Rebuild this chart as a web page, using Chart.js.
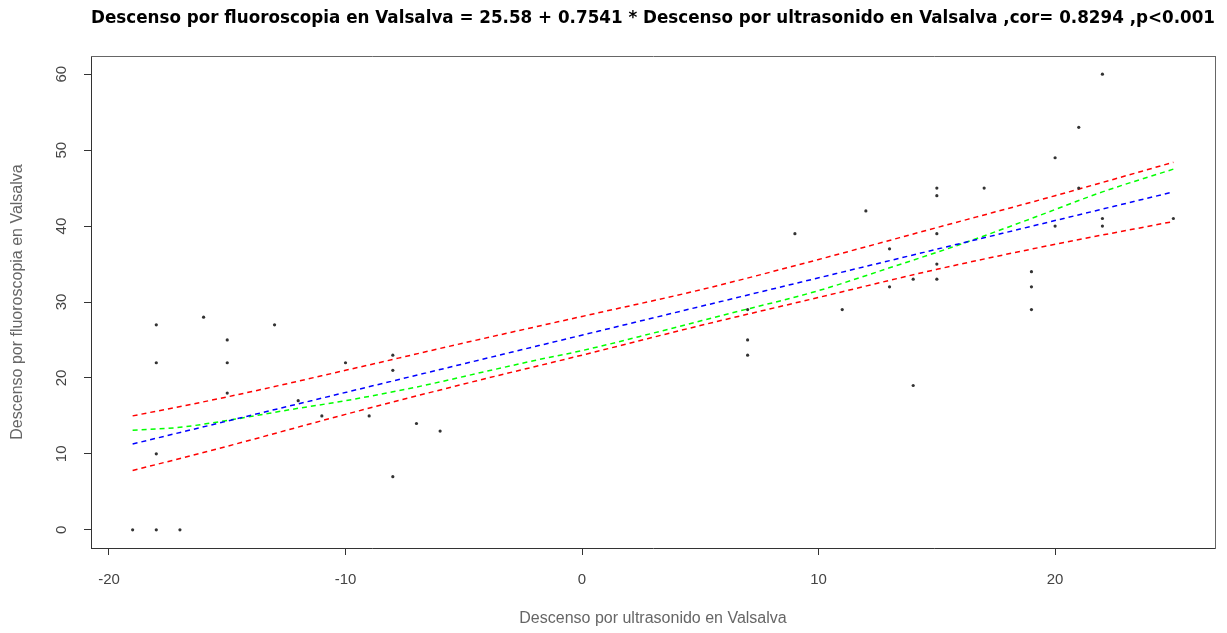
<!DOCTYPE html>
<html>
<head>
<meta charset="utf-8">
<script src="https://cdn.jsdelivr.net/npm/chart.js@4.4.1/dist/chart.umd.min.js"></script>
<style>
  html, body { margin: 0; padding: 0; background: #fff; }
  #wrap { width: 1227px; height: 633px; }
</style>
</head>
<body>
<div id="wrap"><canvas id="myChart"></canvas></div>
<script>
// observed pairs (ultrasonido, fluoroscopia)
const ultrasonido = [-19, -18, -17, -18, -18, -18, -16, -15, -15, -15, -13, -12, -11, -10, -9, -8, -8, -8, -7, -6,
  7, 7, 7, 9, 11, 12, 13, 13, 14, 14, 15, 15, 15, 15, 15, 17, 19, 19, 19, 20, 20, 21, 21, 22, 22, 22, 25];
const fluoroscopia = [0, 0, 0, 27, 22, 10, 28, 25, 22, 18, 27, 17, 15, 22, 15, 23, 21, 7, 14, 13,
  29, 25, 23, 39, 29, 42, 37, 32, 33, 19, 45, 44, 39, 35, 33, 45, 34, 32, 29, 49, 40, 53, 45, 60, 41, 40, 41];

// fitted line, read at the ends
const fitX = [-19, 25];
const fitY = [11.3, 44.5];

// confidence band
const bandX = [-19, -15, -10, -5, 0, 5, 10, 15, 20, 25];
const bandUpper = [15.0, 17.5, 21.0, 24.6, 28.1, 31.6, 35.6, 39.8, 44.0, 48.4];
const bandLower = [7.8, 11.0, 15.2, 19.2, 23.0, 26.9, 30.6, 34.3, 37.6, 40.6];

// lowess curve
const lowessX = [-19, -17, -15, -12, -10, -7, -4, -2, 0, 3, 6, 10, 13, 16, 19, 22, 25];
const lowessY = [13.1, 13.5, 14.4, 16.0, 17.0, 18.8, 20.9, 22.3, 23.6, 25.9, 28.3, 31.5, 34.5, 37.6, 41.0, 44.5, 47.5];

const xTicks = [-20, -10, 0, 10, 20];
const yTicks = [0, 10, 20, 30, 40, 50, 60];

const titleText = 'Descenso por fluoroscopia en Valsalva = 25.58 + 0.7541 * Descenso por ultrasonido en Valsalva ,cor= 0.8294 ,p<0.001';
const xTitle = 'Descenso por ultrasonido en Valsalva';
const yTitle = 'Descenso por fluoroscopia en Valsalva';

const pairs = (xs, ys) => xs.map((x, i) => ({ x: x, y: ys[i] }));

function dashed(label, data, color) {
  return {
    label: label,
    data: data,
    showLine: true,
    borderColor: color,
    borderWidth: 1.5,
    borderDash: [5, 4],
    pointRadius: 0,
    fill: false,
    cubicInterpolationMode: 'monotone'
  };
}

const FONT = '"Liberation Sans", Arial, sans-serif';

new Chart(document.getElementById('myChart').getContext('2d'), {
  type: 'scatter',
  data: {
    datasets: [
      {
        label: 'datos',
        data: pairs(ultrasonido, fluoroscopia),
        pointRadius: 1.6,
        pointBackgroundColor: '#333',
        pointBorderWidth: 0
      },
      dashed('ajuste', pairs(fitX, fitY), '#0000ff'),
      dashed('superior', pairs(bandX, bandUpper), '#ff0000'),
      dashed('inferior', pairs(bandX, bandLower), '#ff0000'),
      dashed('lowess', pairs(lowessX, lowessY), '#00ff00')
    ]
  },
  options: {
    responsive: true,
    maintainAspectRatio: false,
    animation: false,
    layout: { padding: { left: 0, right: 12, top: 0, bottom: 0 } },
    plugins: {
      legend: { display: false },
      tooltip: { enabled: false },
      title: {
        display: true,
        text: titleText,
        fullSize: false,
        color: '#000',
        font: { family: '"DejaVu Sans", sans-serif', size: 17, weight: 'bold' },
        padding: { top: 8, bottom: 27.6 }
      }
    },
    scales: {
      x: {
        type: 'linear',
        position: 'bottom',
        min: -20.76,
        max: 26.76,
        afterBuildTicks: s => { s.ticks = xTicks.map(v => ({ value: v })); },
        afterFit: s => { s.height = 85; },
        grid: { drawOnChartArea: false, drawTicks: true, tickLength: 7, tickColor: '#333' },
        border: { display: true, color: '#333', width: 1 },
        ticks: { color: '#444', padding: 16, font: { family: FONT, size: 15 }, maxRotation: 0 },
        title: {
          display: true,
          text: xTitle,
          color: '#666',
          font: { family: FONT, size: 16 },
          padding: { top: 0, bottom: 5 }
        }
      },
      y: {
        type: 'linear',
        position: 'left',
        min: -2.4,
        max: 62.4,
        afterBuildTicks: s => { s.ticks = yTicks.map(v => ({ value: v })); },
        afterFit: s => { s.width = 91; },
        grid: { drawOnChartArea: false, drawTicks: true, tickLength: 7, tickColor: '#333' },
        border: { display: true, color: '#333', width: 1 },
        ticks: {
          color: '#444',
          padding: 14,
          crossAlign: 'center',
          minRotation: 90,
          maxRotation: 90,
          font: { family: FONT, size: 15 }
        },
        title: {
          display: true,
          text: yTitle,
          color: '#666',
          font: { family: FONT, size: 16 },
          padding: { top: 8, bottom: 0 }
        }
      },
      x2: {
        type: 'linear',
        position: 'top',
        afterFit: s => { s.height = 0; },
        grid: { display: false },
        ticks: { display: false },
        border: { display: true, color: '#666', width: 1 }
      },
      y2: {
        type: 'linear',
        position: 'right',
        afterFit: s => { s.width = 0; },
        grid: { display: false },
        ticks: { display: false },
        border: { display: true, color: '#666', width: 1 }
      }
    }
  }
});
</script>
</body>
</html>
